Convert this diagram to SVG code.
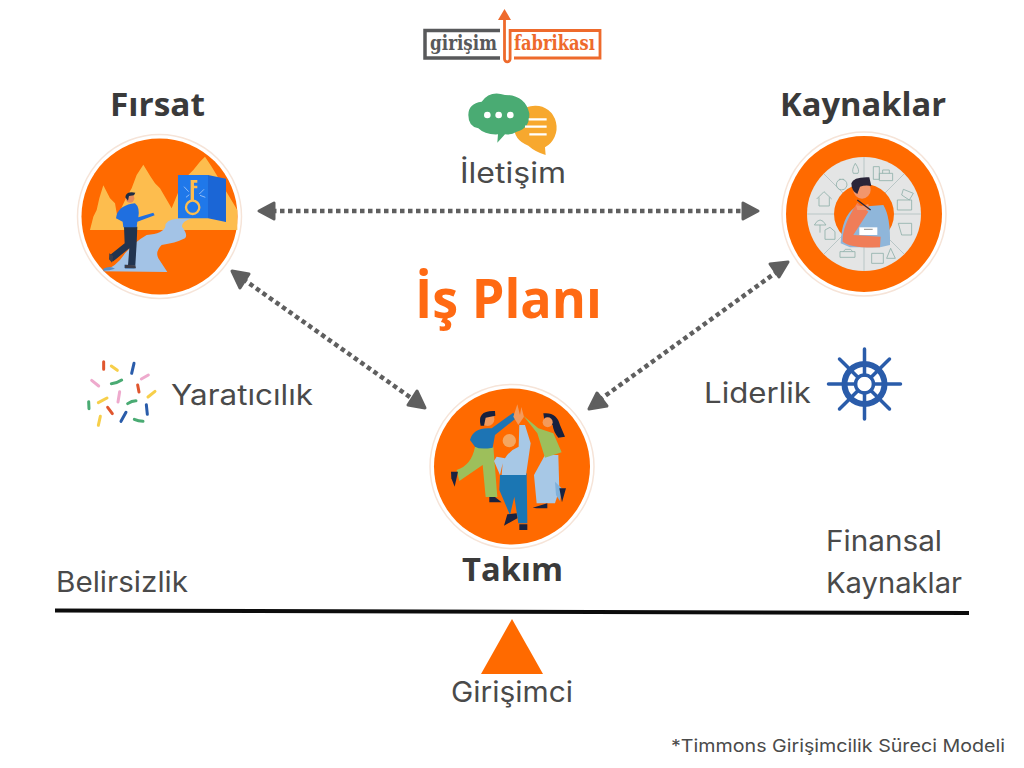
<svg xmlns="http://www.w3.org/2000/svg" width="1024" height="768" viewBox="0 0 1024 768">
<style>
.h{font-family:"Open Sans","Liberation Sans",sans-serif;font-weight:700;fill:#3a3a3a;font-size:33px}
.l{font-family:"Inter","Open Sans","Liberation Sans",sans-serif;fill:#4a4a4a;font-size:28px}
.ring{fill:#fff;stroke:#f6e4d8;stroke-width:1.500}
.o{fill:#ff6a00}
.con{stroke:#5f5f5f;stroke-width:4.500;stroke-dasharray:4.500 3.500;fill:none}
.hd{fill:#5f5f5f;stroke:#5f5f5f;stroke-width:3;stroke-linejoin:round}
.ic{fill:none;stroke:#8fb0aa;stroke-width:2.500}
.sp{fill:none;stroke-width:9;stroke-linecap:round}
.wh{stroke:#2a5caa;fill:none;stroke-linecap:round}
.lg{font-family:"DejaVu Serif","Liberation Serif",serif;font-weight:700;font-size:20px}
</style>
<g id="logo">
<path d="M500 30.500H425V58H500" fill="none" stroke="#58595b" stroke-width="3.500"/>
<path d="M504.500 15V59a2.800 2.800 0 0 0 5.600 0V30.500H600V58H514" fill="none" stroke="#ee6a2c" stroke-width="2.800"/>
<path d="M504.500 9L511 20H498Z" fill="#ee6a2c"/>
<text class="lg" x="430" y="50" fill="#58595b" textLength="67" lengthAdjust="spacingAndGlyphs">girişim</text>
<text class="lg" x="514" y="50" fill="#ee6a2c" textLength="81" lengthAdjust="spacingAndGlyphs">fabrikası</text>
</g>
<g id="connectors">
<path class="con" d="M272 211H745"/>
<path class="hd" d="M259 211L274 203V219Z"/>
<path class="hd" d="M758 211L743 203V219Z"/>
<path class="con" d="M243 279L414 400"/>
<path class="hd" d="M232 271L249 274L240 288Z"/>
<path class="hd" d="M425 408L408 405L417 391Z"/>
<path class="con" d="M778 271L598 401"/>
<path class="hd" d="M788 262L779 277L770 264Z"/>
<path class="hd" d="M589 409L597 393L607 406Z"/>
</g>
<g id="firsat">
<text class="h" x="110" y="116" textLength="95" lengthAdjust="spacingAndGlyphs">Fırsat</text>
<circle class="ring" cx="159.500" cy="216.500" r="82"/>
<circle class="o" cx="159.500" cy="216.500" r="78"/>
<g transform="translate(60,120) scale(.3333)">
<path d="M90 330L100 290L110 270L118 235L130 196L150 235L165 250L172 290L200 230L215 205L230 165L250 134L272 170L285 190L300 205L335 265L370 180L400 150L420 125L435 110L455 140L470 165L490 200L505 225L532 270V330Z" fill="#fdbd4e"/>
<path d="M128 454Q170 440 195 400Q225 365 260 345Q310 340 316 320Q315 300 350 296L395 295Q365 305 366 320Q385 345 375 355Q345 370 305 375Q285 395 295 415L322 456Z" fill="#a3c3e6"/>
<path d="M130 446Q150 436 165 446Q150 452 130 452Z M192 434L226 436L224 446H195Z" fill="#5a8cc4"/>
<path d="M354 165H444V295H354Z" fill="#1f78ea"/>
<path d="M444 165L498 176V306L444 295Z" fill="#1b66d6"/>
<circle cx="398" cy="262" r="20" fill="none" stroke="#fdbd4e" stroke-width="7"/>
<path d="M392 180H412V188H402V197H412V205H402V243H392Z" fill="#fdbd4e"/>
<path d="M372 200L386 215M378 232L388 224M432 208L418 222M436 232L420 226" stroke="#cfe0fb" stroke-width="2"/>
<path d="M192 320H232L230 370L226 436H204L208 385L158 425L150 405L194 370Z" fill="#22344f"/>
<path d="M148 400L160 408L156 428L147 418ZM195 434L226 436L228 445L194 444Z" fill="#3d3d48"/>
<path d="M170 285Q180 255 225 250Q240 262 235 292L280 278L284 286L232 305L230 322H190L188 305L168 295Z" fill="#1f6fe0"/>
<circle cx="210" cy="235" r="13" fill="#e88c5c"/>
<path d="M196 232Q198 213 226 218L222 226L207 228L204 242Z" fill="#1d2c44"/>
</g>
</g>
<g id="kaynaklar">
<text class="h" x="780" y="116" textLength="166" lengthAdjust="spacingAndGlyphs">Kaynaklar</text>
<circle class="ring" cx="864" cy="214" r="82"/>
<circle class="o" cx="864" cy="214" r="78"/>
<circle cx="864" cy="214" r="57" fill="#e4e5e5"/>
<path d="M864 157V184M864 244V271M807 214H834M894 214H921M824 174L843 193M885 235L904 254M904 174L885 193M843 235L824 254" stroke="#b9c6c6" stroke-width="1"/>
<circle class="o" cx="864" cy="214" r="30"/>
<g transform="translate(770,120) scale(.3333)">
<path class="ic" d="M140 237L162 215L185 237M147 232V258H178V232M310 140H328V178H310ZM328 160H368V182H328ZM338 160V150H358V160M212 178a16 16 0 1 0 6 0M207 178H222M256 130Q270 150 264 160H250Q244 150 256 130ZM133 315Q150 285 168 315ZM150 315V338M165 358V330L180 322L195 335V358ZM210 395H255V412H210ZM220 395L226 388H242L248 395M305 400H340V430H305ZM350 415L362 385L376 415ZM382 240H425V270H382ZM400 208L430 220L418 240L395 225ZM385 310H425V345H395Z"/>
<path d="M212 370Q215 290 255 262L340 255Q362 290 360 375L330 382H240Z" fill="#8fb6da"/>
<path d="M262 248Q215 320 218 365Q240 385 330 382L332 350L250 345L295 275Z" fill="#f07d58"/>
<path d="M268 322H322V345H268Z" fill="#fff"/>
<path d="M282 328H308" stroke="#555" stroke-width="2"/>
<circle cx="276" cy="210" r="26" fill="#f2966c"/>
<path d="M258 255Q270 262 295 252L298 270H262Z" fill="#f2966c"/>
<path d="M244 190Q250 170 298 172L304 198Q285 195 270 200L262 222Q245 215 244 190Z" fill="#2a2438"/>
<path d="M262 240L302 270" stroke="#2a2438" stroke-width="4"/>
</g>
</g>
<g id="takim">
<circle class="ring" cx="512" cy="466.500" r="82"/>
<circle class="o" cx="512" cy="466.500" r="78"/>
<g transform="translate(420,375) scale(.3333)">
<path d="M165 215L220 215L232 366H197L188 270L118 318L110 285Q155 270 165 215Z" fill="#9dbf5b"/>
<path d="M93 290H114L104 335L94 310Z" fill="#1a2340"/>
<path d="M208 366H225L245 382H208Z" fill="#1a2340"/>
<path d="M150 195Q160 155 215 160L280 113L288 130L225 180L218 218Q180 225 165 215Z" fill="#1d74b4"/>
<circle cx="203" cy="133" r="20" fill="#f39a5c"/>
<path d="M182 152Q170 105 225 108L226 122L197 128L192 152Z" fill="#17203d"/>
<path d="M280 125L292 88L300 120L304 96L312 125L295 150Z" fill="#f39a5c"/>
<path d="M240 300L320 295L322 445L295 445L283 365L270 420L238 345Z" fill="#1b76b3"/>
<path d="M262 418L290 415L292 430L252 452Z M298 448H322V465H298Z" fill="#1a2340"/>
<path d="M255 250Q270 225 296 215L298 150L315 150L332 205L318 300H245L248 265L240 300L222 258L230 245Z" fill="#a7c8e6"/>
<circle cx="268" cy="197" r="20" fill="#f4a660"/>
<path d="M375 240H415L418 345L405 385H350L342 300Z" fill="#a7c8e6"/>
<path d="M405 320L425 340L420 378L408 360Z" fill="#7fb0da"/>
<path d="M310 122L355 160L400 175L425 232L375 248L352 175Z" fill="#9dbf5b"/>
<path d="M370 115Q410 110 420 150L435 185L415 188Q400 170 398 150L375 150Z" fill="#17203d"/>
<circle cx="383" cy="142" r="15" fill="#f39a5c"/>
<path d="M338 398L382 385V400H350Z M418 340H438L426 382Z" fill="#1a2340"/>
</g>
<text class="h" x="462" y="581" textLength="101" lengthAdjust="spacingAndGlyphs">Takım</text>
</g>
<g id="iletisim">
<g transform="translate(410,0) scale(.3333)">
<path d="M375 317a63 66 0 0 1 30 125L407 465Q375 455 355 437Q310 420 312 375Q318 320 375 317Z" fill="#f7a82e"/>
<path d="M175 345Q175 310 215 305Q240 270 285 285Q345 285 358 340Q360 385 320 395Q305 405 285 403L262 428L264 403Q225 405 205 385Q175 380 175 345Z" fill="#4aab73"/>
<g fill="#fff"><circle cx="232" cy="345" r="10"/><circle cx="266" cy="345" r="10"/><circle cx="301" cy="345" r="10"/></g>
<path d="M356 358H410M345 380H410M358 403H410" stroke="#fff" stroke-width="7"/>
</g>
<text class="l" x="460" y="183" textLength="106" lengthAdjust="spacingAndGlyphs">İletişim</text>
</g>
<g id="is-plani"><text x="415" y="318" font-family="'Open Sans','Liberation Sans',sans-serif" font-weight="700" font-size="54" fill="#ff6a13" textLength="187" lengthAdjust="spacingAndGlyphs">İş Planı</text></g>
<g id="yaraticilik">
<g transform="translate(70,350) scale(.3333)">
<path class="sp" stroke="#e0562e" d="M101 35V58M203 105L207 126M113 172L127 191"/>
<path class="sp" stroke="#f7cf4a" d="M124 48L142 61M234 141L255 124M85 158L111 144M91 199L85 226"/>
<path class="sp" stroke="#2a5caa" d="M192 40L185 70M229 164L232 193M168 187L153 214"/>
<path class="sp" stroke="#eeaacd" d="M65 91L86 108M214 87L235 75M149 125L144 156"/>
<path class="sp" stroke="#4aab73" d="M124 101Q140 100 155 90M56 155L57 176M173 161Q185 152 198 152M193 208Q205 213 219 214"/>
</g>
<text class="l" x="171" y="405" textLength="142" lengthAdjust="spacingAndGlyphs">Yaratıcılık</text>
</g>
<g id="liderlik">
<text class="l" x="704" y="403" textLength="107" lengthAdjust="spacingAndGlyphs">Liderlik</text>
<g transform="translate(864.500,384)">
<path class="wh" stroke-width="3.500" d="M0-9V-35M0 9V35M-9 0H-36M9 0H36M6.400-6.400L25-25M-6.400-6.400L-25-25M6.400 6.400L25 25M-6.400 6.400L-25 25"/>
<circle class="wh" r="20" stroke-width="6"/>
<circle class="wh" r="9" stroke-width="3.500"/>
</g>
</g>
<g id="balance">
<path d="M55 610.500L969 613" stroke="#0c0c0c" stroke-width="4" fill="none"/>
<path d="M512 619L543 674H481Z" fill="#ff6a00"/>
<text class="l" x="56" y="592" textLength="132" lengthAdjust="spacingAndGlyphs">Belirsizlik</text>
<text class="l" x="826" y="551" textLength="116" lengthAdjust="spacingAndGlyphs">Finansal</text>
<text class="l" x="826" y="593" textLength="136" lengthAdjust="spacingAndGlyphs">Kaynaklar</text>
<text class="l" x="451" y="702" textLength="122" lengthAdjust="spacingAndGlyphs">Girişimci</text>
<text x="671" y="752" font-family="Inter,'Open Sans','Liberation Sans',sans-serif" font-size="17.500" fill="#4a4a4a" textLength="334" lengthAdjust="spacingAndGlyphs">*Timmons Girişimcilik Süreci Modeli</text>
</g>
</svg>
